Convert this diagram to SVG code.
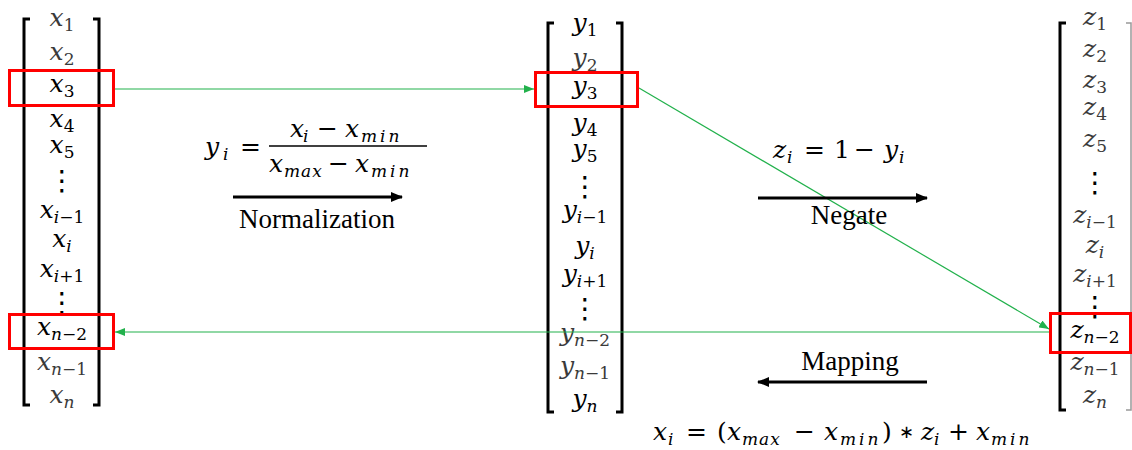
<svg xmlns="http://www.w3.org/2000/svg" width="1132" height="450" viewBox="0 0 1132 450">
<defs>
<style>
.m{font-family:"DejaVu Serif","Liberation Serif",serif;font-style:italic;font-size:25px;fill:#000;text-anchor:middle}
.f{font-family:"DejaVu Serif","Liberation Serif",serif;font-style:italic;font-size:25px;fill:#000}
.g{fill:#3a3a3a}
.s{font-size:17px}
.ls{letter-spacing:3px}
.lm{letter-spacing:1px}
.u{font-style:normal}
.op{font-family:"DejaVu Serif","Liberation Serif",serif;font-style:normal;font-size:25px}
.ast{font-family:"DejaVu Sans",sans-serif;font-style:normal;font-size:18px}
.d{font-family:"DejaVu Sans",sans-serif;font-size:28px;text-anchor:middle;fill:#000}
.lbl{font-family:"Liberation Serif",serif;font-size:27px;fill:#000;text-anchor:middle}
.br{fill:none;stroke:#000;stroke-width:3}
.rb{fill:none;stroke:#ff0000;stroke-width:3}
.gl{stroke:#22b14c;stroke-width:1.2;fill:none}
.bl{stroke:#000;stroke-width:3;fill:none}
</style>
<marker id="ga" markerUnits="userSpaceOnUse" markerWidth="10" markerHeight="8" refX="10" refY="4" orient="auto"><path d="M0,0 L10,4 L0,8 z" fill="#22b14c"/></marker>
<marker id="ba" markerUnits="userSpaceOnUse" markerWidth="12" markerHeight="10" refX="11" refY="5" orient="auto"><path d="M0,0 L12,5 L0,10 z" fill="#000"/></marker>
</defs>
<rect width="1132" height="450" fill="#fff"/>

<g id="vector-x">
<path class="br" d="M30,19 H24 V405 H30"/>
<path class="br" d="M93,19 H99 V405 H93"/>
<text class="m g" x="62" y="26">x<tspan class="s u" dy="5">1</tspan></text>
<text class="m g" x="62" y="60">x<tspan class="s u" dy="5">2</tspan></text>
<text class="m" x="62" y="92">x<tspan class="s u" dy="5">3</tspan></text>
<text class="m" x="62" y="127">x<tspan class="s u" dy="5">4</tspan></text>
<text class="m" x="62" y="153">x<tspan class="s u" dy="5">5</tspan></text>
<text class="d" x="62" y="190">⋮</text>
<text class="m" x="62" y="218">x<tspan class="s" dy="5">i</tspan><tspan class="s u">−1</tspan></text>
<text class="m" x="62" y="247">x<tspan class="s" dy="5">i</tspan></text>
<text class="m" x="62" y="277">x<tspan class="s" dy="5">i</tspan><tspan class="s u">+1</tspan></text>
<text class="d" x="62" y="312">⋮</text>
<text class="m" x="62" y="335">x<tspan class="s" dy="5">n</tspan><tspan class="s u">−2</tspan></text>
<text class="m g" x="62" y="370">x<tspan class="s" dy="5">n</tspan><tspan class="s u">−1</tspan></text>
<text class="m g" x="62" y="403">x<tspan class="s" dy="5">n</tspan></text>
<rect class="rb" x="9.5" y="70.5" width="104" height="35"/>
<rect class="rb" x="9.5" y="314.5" width="104" height="34"/>
</g>

<g id="vector-y">
<path class="br" d="M554,23 H548 V412 H554"/>
<path class="br" d="M616,23 H622 V412 H616"/>
<text class="m" x="585" y="31">y<tspan class="s u" dy="5">1</tspan></text>
<text class="m g" x="585" y="66">y<tspan class="s u" dy="5">2</tspan></text>
<text class="m" x="585" y="94">y<tspan class="s u" dy="5">3</tspan></text>
<text class="m" x="585" y="131">y<tspan class="s u" dy="5">4</tspan></text>
<text class="m" x="585" y="157">y<tspan class="s u" dy="5">5</tspan></text>
<text class="d" x="585" y="196">⋮</text>
<text class="m" x="585" y="218">y<tspan class="s" dy="5">i</tspan><tspan class="s u">−1</tspan></text>
<text class="m" x="585" y="254">y<tspan class="s" dy="5">i</tspan></text>
<text class="m" x="585" y="282">y<tspan class="s" dy="5">i</tspan><tspan class="s u">+1</tspan></text>
<text class="d" x="585" y="318">⋮</text>
<text class="m g" x="585" y="341">y<tspan class="s" dy="5">n</tspan><tspan class="s u">−2</tspan></text>
<text class="m g" x="585" y="374">y<tspan class="s" dy="5">n</tspan><tspan class="s u">−1</tspan></text>
<text class="m" x="585" y="407">y<tspan class="s" dy="5">n</tspan></text>
<rect class="rb" x="535.5" y="72.5" width="102" height="34"/>
</g>

<g id="vector-z">
<path class="br" d="M1066,23 H1060 V410 H1066"/>
<path d="M1126,23 H1131 V410 H1126" fill="none" stroke="#999" stroke-width="1.5"/>
<text class="m g" x="1095" y="25">z<tspan class="s u" dy="5">1</tspan></text>
<text class="m g" x="1095" y="57">z<tspan class="s u" dy="5">2</tspan></text>
<text class="m g" x="1095" y="88">z<tspan class="s u" dy="5">3</tspan></text>
<text class="m g" x="1095" y="115">z<tspan class="s u" dy="5">4</tspan></text>
<text class="m g" x="1095" y="147">z<tspan class="s u" dy="5">5</tspan></text>
<text class="d" x="1095" y="192">⋮</text>
<text class="m g" x="1095" y="223">z<tspan class="s" dy="5">i</tspan><tspan class="s u">−1</tspan></text>
<text class="m g" x="1095" y="253">z<tspan class="s" dy="5">i</tspan></text>
<text class="m g" x="1095" y="282">z<tspan class="s" dy="5">i</tspan><tspan class="s u">+1</tspan></text>
<text class="d" x="1095" y="316">⋮</text>
<text class="m" x="1095" y="338">z<tspan class="s" dy="5">n</tspan><tspan class="s u">−2</tspan></text>
<text class="m g" x="1095" y="370">z<tspan class="s" dy="5">n</tspan><tspan class="s u">−1</tspan></text>
<text class="m g" x="1095" y="403">z<tspan class="s" dy="5">n</tspan></text>
<rect class="rb" x="1050.5" y="313.5" width="80" height="39"/>
</g>

<g id="connectors">
<line class="gl" x1="115" y1="89" x2="534" y2="89" marker-end="url(#ga)"/>
<line class="gl" x1="639" y1="88" x2="1049" y2="329" marker-end="url(#ga)"/>
<line class="gl" x1="1049" y1="332" x2="115" y2="332" marker-end="url(#ga)"/>
</g>

<g id="normalization">
<text class="f" x="205" y="155">y<tspan class="s" x="223" y="160">i</tspan><tspan class="op" x="240" y="155">=</tspan></text>
<line x1="269" y1="146" x2="427" y2="146" stroke="#000" stroke-width="1.5"/>
<text class="f" x="290" y="137">x<tspan class="s" x="303" y="142">i</tspan><tspan class="op" x="317" y="137">−</tspan><tspan x="345" y="137">x</tspan><tspan class="s ls" x="361" y="142">min</tspan></text>
<text class="f" x="269" y="172">x<tspan class="s lm" x="284" y="177">max</tspan><tspan class="op" x="328" y="172">−</tspan><tspan x="355" y="172">x</tspan><tspan class="s ls" x="371" y="177">min</tspan></text>
<line class="bl" x1="233" y1="197" x2="402" y2="197" marker-end="url(#ba)"/>
<text class="lbl" x="317" y="228">Normalization</text>
</g>

<g id="negate">
<text class="f" x="773" y="158">z<tspan class="s" x="787" y="163">i</tspan><tspan class="op" x="804" y="158">=</tspan><tspan class="op" x="834" y="158">1</tspan><tspan class="op" x="854" y="158">−</tspan><tspan x="884" y="158">y</tspan><tspan class="s" x="899" y="163">i</tspan></text>
<line class="bl" x1="758" y1="198" x2="927" y2="198" marker-end="url(#ba)"/>
<text class="lbl" x="849" y="224">Negate</text>
</g>

<g id="mapping">
<text class="lbl" x="850" y="370">Mapping</text>
<line class="bl" x1="927" y1="382" x2="758" y2="382" marker-end="url(#ba)"/>
<text class="f" x="653" y="440">x<tspan class="s" x="668" y="445">i</tspan><tspan class="op" x="686" y="440">=</tspan><tspan class="op" x="717" y="440">(</tspan><tspan x="727" y="440">x</tspan><tspan class="s lm" x="742" y="445">max</tspan><tspan class="op" x="794" y="440">−</tspan><tspan x="824" y="440">x</tspan><tspan class="s ls" x="840" y="445">min</tspan><tspan class="op" x="882" y="440">)</tspan><tspan class="ast" x="899" y="438">∗</tspan><tspan x="921" y="440">z</tspan><tspan class="s" x="934" y="445">i</tspan><tspan class="op" x="948" y="440">+</tspan><tspan x="976" y="440">x</tspan><tspan class="s ls" x="991" y="445">min</tspan></text>
</g>
</svg>
